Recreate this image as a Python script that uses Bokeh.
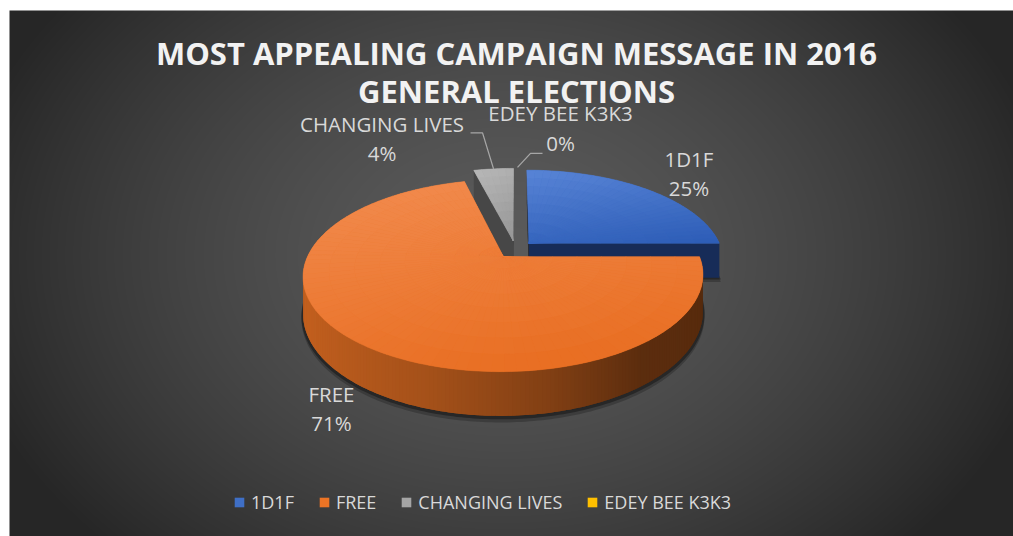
import numpy as np
from bokeh.plotting import figure
from bokeh.models import Range1d, Legend, LegendItem, ColumnDataSource
from bokeh.core.properties import value
from bokeh.embed import file_html
from bokeh.resources import INLINE

# ---------------- data ----------------
categories = ["1D1F", "FREE", "CHANGING LIVES", "EDEY BEE K3K3"]
values = [25, 71, 4, 0]
title_lines = ["MOST APPEALING CAMPAIGN MESSAGE IN 2016", "GENERAL ELECTIONS"]

# ---------------- style ----------------
TOP_COLORS = ["#3f6fc6", "#ec7425", "#a5a5a5", "#ffc000"]
TOP_LIGHT = [(88, 132, 214), (242, 140, 80), (184, 184, 184), (255, 205, 60)]
TOP_DARK = [(44, 92, 182), (231, 106, 28), (150, 150, 150), (240, 180, 0)]
START_FACE = ["#2b2e35", "#5a2a0b", "#474747", "#806000"]
END_FACE = ["#172c58", "#5a2a0b", "#383838", "#806000"]
W, H = 1013, 536
CX, CY = 515.0, 249.0
S, A, B, P = 193.0, 89.5, 35.0, 0.194
EXPLODE = 0.1
CAM = np.array([0.0, 1.0 / P, -A / (B * P)])
FONT = value("Open Sans")
TXT = "#d9d9d9"
TEXT_SHIFT = 10  # text glyph baseline correction (px)


def proj(x, y, d):
    x = np.asarray(x, float); y = np.asarray(y, float); d = np.asarray(d, float)
    w = 1 - P * y
    return CX + S * x / w, H - (CY + (A * y + B * d) / w)


def dirv(theta):
    t = np.radians(theta)
    return np.sin(t), -np.cos(t)


def shade(rgb_hex, f):
    h = rgb_hex.lstrip("#")
    r, g, b = (int(h[i:i + 2], 16) for i in (0, 2, 4))
    return "#%02x%02x%02x" % (int(r * f), int(g * f), int(b * f))


def lerp_col(c0, c1, t):
    t = min(max(t, 0.0), 1.0)
    return "#%02x%02x%02x" % tuple(int(round(a + (b - a) * t)) for a, b in zip(c0, c1))


p = figure(width=W, height=H, x_range=Range1d(0, W), y_range=Range1d(0, H),
           output_backend="svg", toolbar_location=None, min_border=0)
p.axis.visible = False
p.grid.visible = False
p.outline_line_color = None
p.background_fill_color = "white"
p.border_fill_color = "white"

# background radial gradient panel
PX0, PY0 = 9, 10
bw, bh = W - PX0, H - PY0
jj, ii = np.mgrid[0:bh, 0:bw]
gx = PX0 + ii + 0.5
gy = H - (jj + 0.5)
rr = np.sqrt(((gx - 505) / 560.0) ** 2 + ((gy - 255) / 420.0) ** 2)
gv = (91 - 53 * np.clip(rr, 0, 1) ** 1.5).astype(np.uint8)
img = np.empty((bh, bw), dtype=np.uint32)
view = img.view(dtype=np.uint8).reshape((bh, bw, 4))
view[..., 0] = gv; view[..., 1] = gv; view[..., 2] = gv; view[..., 3] = 255
p.image_rgba(image=[img], x=PX0, y=0, dw=bw, dh=bh)

# ---------------- pie geometry ----------------
total = float(sum(values))
fracs = [v / total for v in values]
starts = np.concatenate([[0.0], np.cumsum(fracs)[:-1]]) * 360.0
ends = starts + np.array(fracs) * 360.0
mids = (starts + ends) / 2.0
offsets = [np.array(dirv(m)) * EXPLODE for m in mids]


def visible(q, n):
    return float(np.dot(CAM - q, n)) > 0


def wall_factor(nx):
    return float(np.interp(nx, [-1, -0.3, 0.2, 0.6, 1], [0.84, 0.7, 0.55, 0.39, 0.37]))


order = sorted([i for i in range(len(values)) if values[i] > 0], key=lambda i: offsets[i][1])

# shadows
for i in order:
    ox, oy = offsets[i]
    th = np.linspace(starts[i], ends[i], max(2, int(ends[i] - starts[i]) + 1))
    dx, dy = dirv(th)
    for dd, al in ((1.12, 0.22), (1.05, 0.35)):
        xs, ys = proj(np.r_[ox, ox + dx * 1.008], np.r_[oy, oy + dy * 1.008], dd)
        p.patch(list(xs), list(ys), fill_color="black", fill_alpha=al, line_color=None)

legend_r = {}
for i in order:
    ox, oy = offsets[i]
    s, e = starts[i], ends[i]
    faces_x, faces_y, faces_c = [], [], []
    # radial faces
    for th, sign, col in ((s, -1, START_FACE[i]), (e, 1, END_FACE[i])):
        t = np.radians(th)
        n = np.array([sign * np.cos(t), sign * np.sin(t), 0.0])
        ux, uy = dirv(th)
        q = np.array([ox + 0.5 * ux, oy + 0.5 * uy, 0.5])
        if visible(q, n):
            xs, ys = proj([ox, ox + ux, ox + ux, ox], [oy, oy + uy, oy + uy, oy], [0, 0, 1, 1])
            faces_x.append(list(xs)); faces_y.append(list(ys)); faces_c.append(col)
    # outer wall strips (each strip overlaps the next to hide seams)
    th = np.linspace(s, e, max(2, int((e - s) / 1.0) + 1))
    step = th[1] - th[0]
    for a in th[:-1]:
        b2 = min(a + 2 * step, e)
        tm = a + step / 2
        nx, ny = dirv(tm)
        q = np.array([ox + nx, oy + ny, 0.5])
        if visible(q, np.array([nx, ny, 0.0])):
            ax, ay = dirv(a); bx, by = dirv(b2)
            mx, my = dirv((a + b2) / 2)
            xs, ys = proj([ox + ax, ox + mx, ox + bx, ox + bx, ox + mx, ox + ax],
                          [oy + ay, oy + my, oy + by, oy + by, oy + my, oy + ay], [0, 0, 0, 1, 1, 1])
            faces_x.append(list(xs)); faces_y.append(list(ys)); faces_c.append(shade(TOP_COLORS[i], wall_factor(nx)))
    if faces_x:
        src = ColumnDataSource(dict(xs=faces_x, ys=faces_y, c=faces_c))
        p.patches("xs", "ys", source=src, fill_color="c", line_color=None)
    # top face (solid base)
    dx, dy = dirv(th)
    xs, ys = proj(np.r_[ox, ox + dx], np.r_[oy, oy + dy], 0)
    legend_r[i] = p.patch(list(xs), list(ys), fill_color=TOP_COLORS[i], line_color=None)
    # top face shading cells (linear light-to-dark gradient on screen)
    ytop, ybot = float(np.max(ys)), float(np.min(ys))
    xl, xr = float(np.min(xs)), float(np.max(xs))
    na = max(1, int(np.ceil((e - s) / 3.0)))
    angs = np.linspace(s, e, na + 1)
    rads = np.linspace(0, 1, 9)
    cx_, cy_, cc_ = [], [], []
    for a0, a1 in zip(angs[:-1], angs[1:]):
        sub = np.linspace(a0, a1, 3)
        sx, sy = dirv(sub)
        for r0, r1 in zip(rads[:-1], rads[1:]):
            px_ = np.r_[ox + r0 * sx, ox + r1 * sx[::-1]]
            py_ = np.r_[oy + r0 * sy, oy + r1 * sy[::-1]]
            qx, qy = proj(px_, py_, np.zeros(len(px_)))
            tt = 0.75 * (ytop - float(np.mean(qy))) / max(ytop - ybot, 1) + 0.25 * (float(np.mean(qx)) - xl) / max(xr - xl, 1)
            cx_.append(list(qx)); cy_.append(list(qy)); cc_.append(lerp_col(TOP_LIGHT[i], TOP_DARK[i], tt))
    src = ColumnDataSource(dict(xs=cx_, ys=cy_, c=cc_))
    p.patches("xs", "ys", source=src, fill_color="c", line_color="c", line_width=0.5)

# zero-size slices: degenerate patch (no area) so the legend still shows a swatch
for i in range(len(values)):
    if i not in legend_r:
        vx, vy = proj([offsets[i][0]] * 3, [offsets[i][1]] * 3, [0, 0, 0])
        legend_r[i] = p.patch(list(vx), list(vy), fill_color=TOP_COLORS[i], line_color=None)

# ---------------- labels ----------------
LABEL_NUDGE = {"1D1F": (43, -20.5), "FREE": (-27.5, 60.5),
               "CHANGING LIVES": (-111.5, -35), "EDEY BEE K3K3": (45, -45)}
LEADERS = {"CHANGING LIVES": [(0, 0), (-11, -36), (-23, -36)],
           "EDEY BEE K3K3": [(2, -1), (15, -15), (27, -15)]}
LINE_GAP = 29.5
for i, c in enumerate(categories):
    ox, oy = offsets[i]
    ux, uy = dirv(mids[i])
    rx, ry = proj(ox + ux, oy + uy, 0)
    rpy = H - ry  # pixel y
    nx_, ny_ = LABEL_NUDGE[c]
    lx, lpy = rx + nx_, rpy + ny_
    pct = "%d%%" % round(values[i] / total * 100)
    p.text(x=[lx, lx], y=[H - lpy + TEXT_SHIFT, H - lpy - LINE_GAP + TEXT_SHIFT], text=[c, pct],
           text_align="center", text_baseline="alphabetic", text_font=FONT, text_font_size="20.5px",
           text_color=TXT)
    if c in LEADERS:
        pts = LEADERS[c]
        p.line([rx + a for a, b2 in pts], [H - (rpy + b2) for a, b2 in pts], line_color="#a6a6a6", line_width=1.3)

# ---------------- title ----------------
p.text(x=[516, 516], y=[H - 62 + TEXT_SHIFT, H - 100 + TEXT_SHIFT], text=title_lines, text_align="center",
       text_baseline="alphabetic", text_font=FONT, text_font_style="bold", text_font_size="31px",
       text_color="#f2f2f2")

# ---------------- legend ----------------
legend = Legend(items=[LegendItem(label=c, renderers=[legend_r[i]]) for i, c in enumerate(categories)],
                orientation="horizontal", location=(233, 22), glyph_width=12, glyph_height=12,
                label_standoff=6, spacing=24, padding=0, margin=0, border_line_alpha=0,
                background_fill_alpha=0, label_text_font="Open Sans", label_text_font_size="18px",
                label_text_color=TXT)
p.add_layout(legend)

open("out.html", "w").write(file_html(p, INLINE))
